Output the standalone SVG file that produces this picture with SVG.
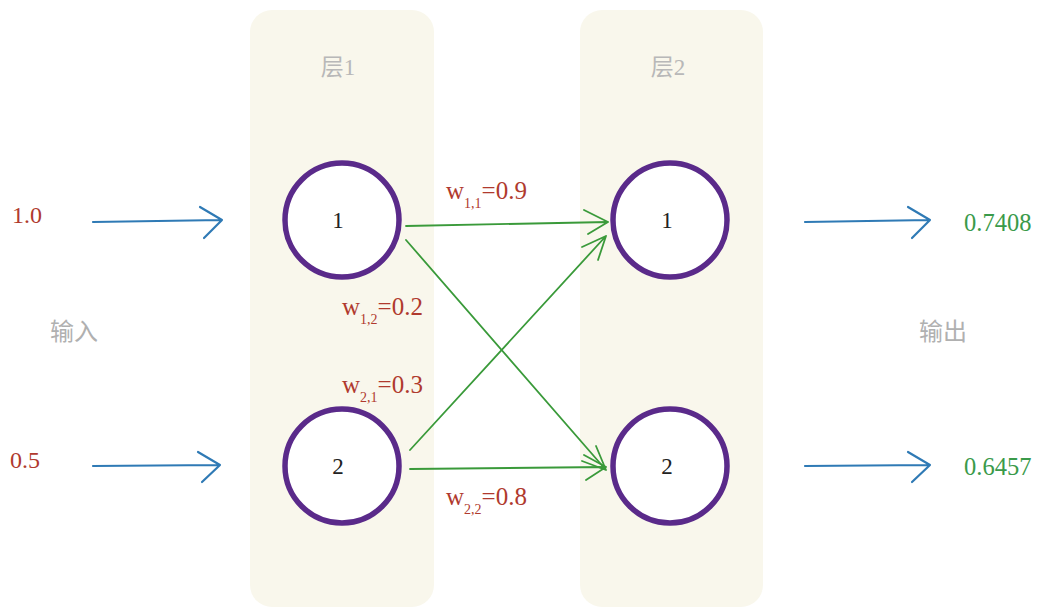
<svg xmlns="http://www.w3.org/2000/svg" width="1038" height="609" viewBox="0 0 1038 609">
<style>
.panel{fill:#f9f7ec}
.node{fill:#fff;stroke:#5a2a8a;stroke-width:5.5}
.nlabel{font-family:"Liberation Serif","Noto Sans CJK SC",serif;font-size:23px;fill:#222;text-anchor:middle}
.in{font-family:"Liberation Serif",serif;font-size:24px;fill:#b03a2e}
.out{font-family:"Liberation Serif",serif;font-size:24.5px;fill:#3a9a4a}
.w{font-family:"Liberation Serif",serif;font-size:25px;fill:#b03a2e}
.sub{font-size:14px}
.cn{font-family:"Noto Sans CJK SC",sans-serif;font-size:24px;fill:#b0b0b0}
.ly{font-family:"Liberation Serif","Noto Sans CJK SC",serif;font-size:23px;fill:#b8b8b8;text-anchor:middle}
.blue{stroke:#2f7ab5;stroke-width:2.2;fill:none;stroke-linecap:round;stroke-linejoin:round}
.green{stroke:#3a9a3a;stroke-width:1.8;fill:none;stroke-linecap:round;stroke-linejoin:round}
</style>
<rect width="1038" height="609" fill="#fff"/>
<rect class="panel" x="250" y="10" width="184" height="597" rx="22"/>
<rect class="panel" x="580" y="10" width="183" height="597" rx="22"/>
<text class="ly" x="338" y="75">层1</text>
<text class="ly" x="668" y="75">层2</text>
<text class="cn" x="50" y="340">输入</text>
<text class="cn" x="919" y="340">输出</text>
<g id="connectors">
<path class="blue" d="M93 222 L222 220 M200 207 L222 220 L204 238"/>
<path class="blue" d="M93 466 L220 465 M198 452 L220 465 L202 482"/>
<path class="blue" d="M805 222 L930 220 M908 207 L930 220 L912 238"/>
<path class="blue" d="M805 466 L930 465 M908 452 L930 465 L912 482"/>
<path class="green" d="M406 226 L608 222 M584 210 L608 222 L588 234"/>
<path class="green" d="M406 240 L606 470 M596 446 L606 470 L582 461"/>
<path class="green" d="M410 450 L606 236 M582 247 L606 236 L598 260"/>
<path class="green" d="M410 469 L606 467 M584 455 L606 467 L586 480"/>
</g>
<g id="in1"><text class="in" x="12" y="223">1.0</text></g>
<g id="in2"><text class="in" x="10" y="468">0.5</text></g>
<g id="out1"><text class="out" x="964" y="231">0.7408</text></g>
<g id="out2"><text class="out" x="964" y="475">0.6457</text></g>
<g id="l1n1"><circle class="node" cx="342" cy="220" r="57"/><text class="nlabel" x="338" y="228">1</text></g>
<g id="l1n2"><circle class="node" cx="342" cy="466" r="57"/><text class="nlabel" x="338" y="474">2</text></g>
<g id="l2n1"><circle class="node" cx="670" cy="220" r="57"/><text class="nlabel" x="667" y="228">1</text></g>
<g id="l2n2"><circle class="node" cx="670" cy="466" r="57"/><text class="nlabel" x="667" y="474">2</text></g>
<text class="w" x="446" y="199">w<tspan class="sub" dy="9">1,1</tspan><tspan dy="-9">=0.9</tspan></text>
<text class="w" x="342" y="315">w<tspan class="sub" dy="9">1,2</tspan><tspan dy="-9">=0.2</tspan></text>
<text class="w" x="342" y="393">w<tspan class="sub" dy="9">2,1</tspan><tspan dy="-9">=0.3</tspan></text>
<text class="w" x="446" y="505">w<tspan class="sub" dy="9">2,2</tspan><tspan dy="-9">=0.8</tspan></text>
</svg>
